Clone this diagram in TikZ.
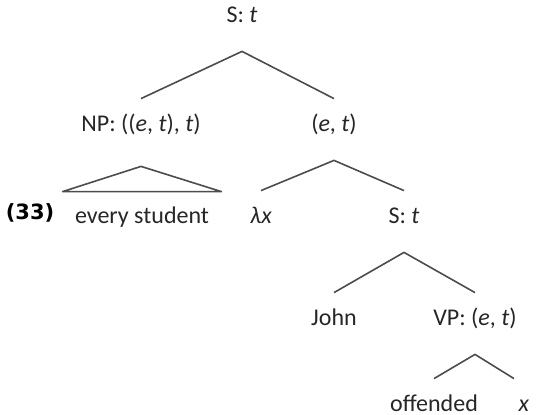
\documentclass[tikz,border=0pt]{standalone}
\usepackage{fontspec}
\setmainfont{Carlito}
\newfontfamily\exfont{DejaVu Sans}
\tikzset{
    cat/.style={inner sep=0pt, text height=8pt, text depth=2pt, font=\fontsize{12}{14}\selectfont, text=black!85},
    exnum/.style={inner sep=0pt, font=\exfont\bfseries\fontsize{10.5}{12}\selectfont},
    branch/.style={draw=black!70, line width=0.8pt, line join=round}
}

\begin{document}
\begin{tikzpicture}[x=0.5pt, y=-0.5pt]
    \useasboundingbox (0,0) rectangle (545,415);
    % categories and words
    \node (top) [cat] at (242,17) {S: \textit{t}};
    \node (np) [cat] at (141,126) {NP: ((\textit{e}, \textit{t}), \textit{t})};
    \node (et) [cat] at (334,126) {(\textit{e}, \textit{t})};
    \node (num) [exnum] at (30,213) {(33)};
    \node (every) [cat] at (142,218) {every student};
    \node (lam) [cat] at (261,218) {\textit{λx}};
    \node (s) [cat] at (404,218) {S: \textit{t}};
    \node (john) [cat] at (334,320) {John};
    \node (vp) [cat] at (475,320) {VP: (\textit{e}, \textit{t})};
    \node (verb) [cat] at (434,406) {offended};
    \node (trace) [cat] at (524,406) {\textit{x}};

    % branches
    \draw [branch] ([yshift=8.5pt]np.north) -- ([yshift=-12pt]top.south) -- ([yshift=8.5pt]et.north);
    \draw [branch] ([xshift=-6pt,yshift=8pt]every.north west) -- ([yshift=-15pt]np.south) -- ([xshift=6pt,yshift=8pt]every.north east) -- cycle;
    \draw [branch] ([yshift=8.5pt]lam.north) -- ([yshift=-12pt]et.south) -- ([yshift=8.5pt]s.north);
    \draw [branch] ([yshift=8.5pt]john.north) -- ([yshift=-12pt]s.south) -- ([yshift=8.5pt]vp.north);
    \draw [branch] ([yshift=8.5pt]verb.north) -- ([yshift=-12pt]vp.south) -- ([xshift=-5pt,yshift=8.5pt]trace.north);
\end{tikzpicture}
\end{document}
